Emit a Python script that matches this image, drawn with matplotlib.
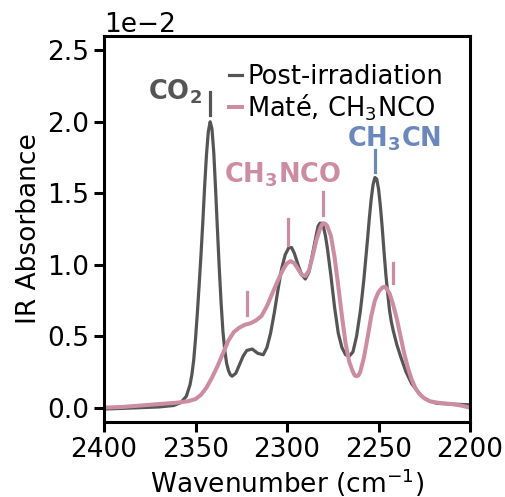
import numpy as np
import matplotlib
matplotlib.use("Agg")
import matplotlib.pyplot as plt

# Post-irradiation spectrum (wavenumber, absorbance in units of 1e-2)
post_wn = [2400, 2390, 2380, 2370, 2362, 2358, 2355, 2353, 2352, 2351, 2350, 2349,
           2348, 2347, 2346, 2345, 2344, 2343, 2342, 2341, 2340, 2339, 2338, 2337,
           2336, 2335, 2334, 2333, 2332, 2331, 2330, 2328, 2326, 2324, 2322, 2319,
           2316, 2313, 2311, 2309, 2307, 2305, 2303, 2301, 2299, 2297.5, 2296, 2294,
           2292, 2290, 2288, 2286, 2284, 2283, 2282, 2281, 2280, 2279, 2278, 2276,
           2274, 2272, 2270, 2268, 2266, 2264, 2262, 2260, 2259, 2258, 2257, 2256,
           2255, 2254, 2253, 2252, 2251, 2250, 2249, 2248, 2247, 2246, 2245, 2244,
           2243, 2242, 2240, 2238, 2235, 2232, 2229, 2226, 2222, 2218, 2210, 2200]
post_abs = [-0.01, -0.005, 0.0, 0.005, 0.015, 0.035, 0.08, 0.16, 0.23, 0.33, 0.48, 0.66,
            0.86, 1.07, 1.3, 1.55, 1.77, 1.93, 2.0, 1.95, 1.78, 1.52, 1.24, 0.97,
            0.73, 0.53, 0.4, 0.31, 0.26, 0.23, 0.22, 0.24, 0.3, 0.36, 0.40, 0.41,
            0.38, 0.37, 0.42, 0.52, 0.66, 0.82, 0.97, 1.07, 1.12, 1.12, 1.08, 1.0,
            0.93, 0.9, 0.95, 1.08, 1.21, 1.27, 1.29, 1.29, 1.26, 1.2, 1.12, 0.92,
            0.7, 0.52, 0.42, 0.37, 0.36, 0.39, 0.5, 0.67, 0.78, 0.9, 1.04, 1.18,
            1.33, 1.46, 1.56, 1.61, 1.6, 1.53, 1.41, 1.26, 1.09, 0.93, 0.8, 0.68,
            0.6, 0.54, 0.44, 0.36, 0.25, 0.17, 0.12, 0.075, 0.045, 0.03, 0.025, 0.02]

# Maté, CH3NCO reference spectrum
mate_wn = [2400, 2390, 2380, 2370, 2360, 2354, 2350, 2347, 2344, 2341, 2338, 2335,
           2332, 2329, 2326, 2323, 2320, 2317, 2314, 2311, 2308, 2305, 2302, 2300,
           2298, 2296, 2294, 2292, 2290, 2288, 2286, 2284, 2282, 2281, 2280, 2279,
           2278, 2276, 2274, 2272, 2270, 2268, 2266, 2264, 2263, 2262, 2261, 2260,
           2258, 2256, 2254, 2252, 2250, 2248, 2247, 2246, 2244, 2242, 2240, 2238,
           2236, 2234, 2232, 2230, 2228, 2225, 2222, 2218, 2214, 2210, 2205, 2200]
mate_abs = [0.0, 0.005, 0.015, 0.025, 0.035, 0.045, 0.06, 0.09, 0.14, 0.21, 0.29, 0.38,
            0.47, 0.53, 0.56, 0.58, 0.59, 0.61, 0.64, 0.71, 0.8, 0.89, 0.97, 1.01,
            1.025, 1.01, 0.97, 0.93, 0.92, 0.96, 1.06, 1.17, 1.25, 1.28, 1.29, 1.285,
            1.27, 1.2, 1.05, 0.85, 0.64, 0.45, 0.32, 0.25, 0.225, 0.22, 0.225, 0.25,
            0.35, 0.49, 0.64, 0.75, 0.81, 0.84, 0.845, 0.84, 0.8, 0.72, 0.62, 0.5,
            0.38, 0.28, 0.2, 0.14, 0.1, 0.065, 0.045, 0.035, 0.03, 0.025, 0.015, 0.0]

scale = 1e-2
gray = "#555555"
pink = "#cc8ca2"
blue = "#6a88bd"

plt.rcParams["font.size"] = 19
fig = plt.figure(figsize=(5.06, 4.97), dpi=100)
ax = fig.add_axes([0.2055, 0.151, 0.7235, 0.7766])

ax.plot(post_wn, np.array(post_abs) * scale, color=gray, lw=2.3, label="Post-irradiation")
ax.plot(mate_wn, np.array(mate_abs) * scale, color=pink, lw=2.9, label="Maté, CH$_3$NCO")

# peak markers: (wavenumber, y bottom, y top, colour)
marks = [(2342, 2.05, 2.21, gray), (2252, 1.65, 1.8, blue),
         (2299.3, 1.14, 1.32, pink), (2280.4, 1.35, 1.51, pink),
         (2322, 0.65, 0.81, pink), (2242, 0.87, 1.01, pink)]
for w, y0, y1, c in marks:
    ax.plot([w, w], [y0 * scale, y1 * scale], color=c, lw=2.3)

ax.text(2346.4, 2.157 * scale, r"CO$_\mathbf{2}$", color=gray, fontweight="bold",
        ha="right", va="baseline", fontsize=18.5)
ax.text(2302.7, 1.578 * scale, r"CH$_\mathbf{3}$NCO", color=pink, fontweight="bold",
        ha="center", va="baseline", fontsize=18.5)
ax.text(2241.5, 1.83 * scale, r"CH$_\mathbf{3}$CN", color=blue, fontweight="bold",
        ha="center", va="baseline", fontsize=18.5)

ax.set_xlim(2400, 2200)
ax.set_ylim(-0.1 * scale, 2.6 * scale)
ax.set_xticks([2400, 2350, 2300, 2250, 2200])
ax.set_yticks(np.array([0, 0.5, 1.0, 1.5, 2.0, 2.5]) * scale)
ax.ticklabel_format(axis="y", style="sci", scilimits=(-2, -2))
ax.set_xlabel("Wavenumber (cm$^{-1}$)", labelpad=3)
ax.set_ylabel("IR Absorbance")

for s in ax.spines.values():
    s.set_linewidth(2.2)
ax.tick_params(width=2.2, length=7)

ax.legend(loc="upper right", frameon=False, handlelength=0.5, handletextpad=0.2,
          bbox_to_anchor=(0.975, 0.975), borderaxespad=0.3, labelspacing=0.1,
          fontsize=18.5)

fig.savefig("out.png", dpi=100)
